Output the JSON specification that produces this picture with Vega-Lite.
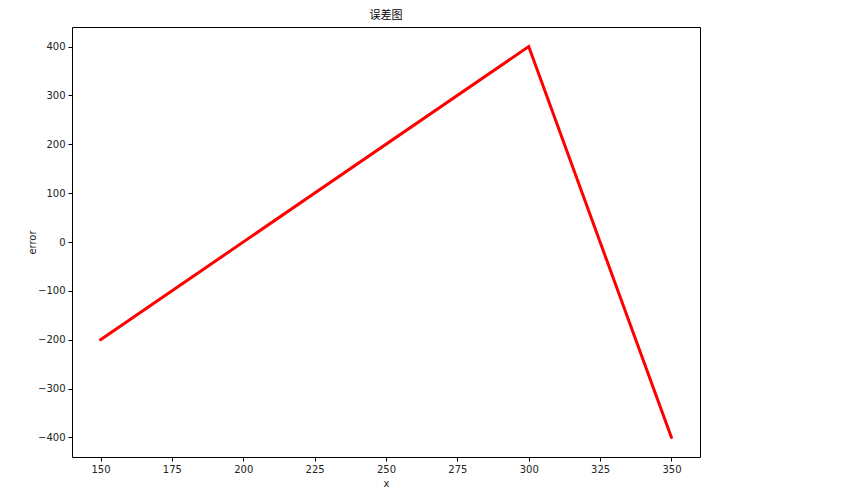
{
  "$schema": "https://vega.github.io/schema/vega-lite/v6.json",
  "autosize": {"type": "none"},
  "width": 628,
  "height": 430,
  "padding": {"left": 72, "top": 27, "right": 167, "bottom": 35},
  "background": "white",
  "title": {
    "text": "误差图",
    "font": "Noto Sans CJK SC",
    "fontSize": 11,
    "fontWeight": "normal",
    "color": "black",
    "offset": 6
  },
  "data": {
    "values": [
      {"x": 150, "error": -200},
      {"x": 300, "error": 400},
      {"x": 350, "error": -400}
    ]
  },
  "mark": {"type": "line", "color": "#ff0000", "strokeWidth": 3, "strokeCap": "round", "clip": true},
  "encoding": {
    "x": {
      "field": "x",
      "type": "quantitative",
      "scale": {"domain": [140, 360], "nice": false, "zero": false},
      "axis": {"values": [150, 175, 200, 225, 250, 275, 300, 325, 350], "title": "x", "titlePadding": 4}
    },
    "y": {
      "field": "error",
      "type": "quantitative",
      "scale": {"domain": [-440, 440], "nice": false, "zero": false},
      "axis": {"values": [-400, -300, -200, -100, 0, 100, 200, 300, 400], "title": "error", "titlePadding": 0}
    }
  },
  "config": {
    "view": {"stroke": "black", "strokeWidth": 1},
    "axis": {
      "grid": false,
      "domain": false,
      "ticks": true,
      "tickColor": "black",
      "tickSize": 4,
      "labelFont": "DejaVu Sans",
      "labelFontSize": 10,
      "labelColor": "#222222",
      "labelPadding": 3,
      "titleFont": "DejaVu Sans",
      "titleFontSize": 10,
      "titleFontWeight": "normal",
      "titleColor": "#222222"
    }
  }
}
